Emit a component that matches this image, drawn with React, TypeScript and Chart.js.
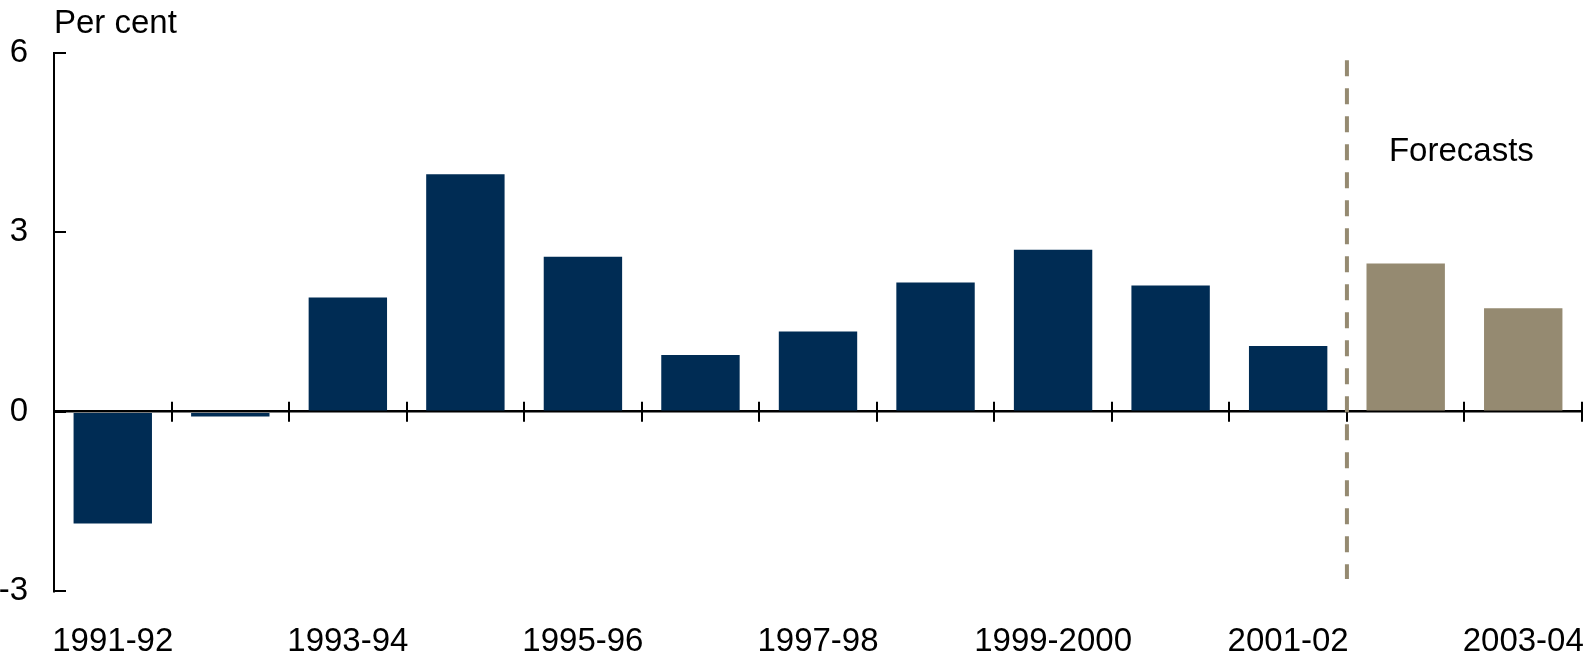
import React, { useEffect, useRef } from "react";
import { Chart, registerables } from "chart.js";

Chart.register(...registerables);

const years = [
  "1991-92", "1992-93", "1993-94", "1994-95", "1995-96", "1996-97", "1997-98",
  "1998-99", "1999-2000", "2000-01", "2001-02", "2002-03", "2003-04",
];
const growth = [-1.87, -0.08, 1.91, 3.97, 2.59, 0.95, 1.34, 2.16, 2.71, 2.11, 1.1, 2.48, 1.73];
// first forecast year
const forecastStart = 11;
const yTicks = [-3, 0, 3, 6];

const NAVY = "#002c54";
const KHAKI = "#958a71";
const FONT = "'Liberation Sans', Arial, sans-serif";

const decorations = {
  id: "decorations",
  afterDatasetsDraw(chart: any) {
    const { ctx, chartArea } = chart;
    const xs = chart.scales.x;
    const ys = chart.scales.y;
    const half = (xs.getPixelForValue(1) - xs.getPixelForValue(0)) / 2;
    const y0 = ys.getPixelForValue(0);

    ctx.save();
    ctx.strokeStyle = "#000";
    ctx.lineWidth = 2;
    ctx.beginPath();
    // y-axis ticks, pointing inward
    for (const v of yTicks) {
      const y = Math.round(ys.getPixelForValue(v));
      ctx.moveTo(chartArea.left, y);
      ctx.lineTo(chartArea.left + 12, y);
    }
    // category boundary ticks crossing the zero line
    for (let i = 0; i < years.length; i++) {
      const x = Math.round(xs.getPixelForValue(i) + half);
      ctx.moveTo(x, y0 - 10);
      ctx.lineTo(x, y0 + 10);
    }
    ctx.stroke();

    // forecast divider
    const xd = xs.getPixelForValue(forecastStart) - half;
    ctx.strokeStyle = KHAKI;
    ctx.lineWidth = 4;
    ctx.setLineDash([16, 12]);
    ctx.beginPath();
    ctx.moveTo(xd, ys.getPixelForValue(5.88));
    ctx.lineTo(xd, ys.getPixelForValue(-2.8));
    ctx.stroke();
    ctx.setLineDash([]);

    ctx.fillStyle = "#000";
    ctx.font = `33px ${FONT}`;
    ctx.textAlign = "left";
    ctx.textBaseline = "middle";
    ctx.fillText("Forecasts", xd + 42, ys.getPixelForValue(4.35));

    ctx.textBaseline = "alphabetic";
    ctx.fillText("Per cent", chartArea.left, chartArea.top - 20);
    ctx.restore();
  },
};

const App: React.FC = () => {
  const canvasRef = useRef<HTMLCanvasElement | null>(null);
  const chartRef = useRef<Chart | null>(null);

  useEffect(() => {
    if (!canvasRef.current) return;
    if (chartRef.current) chartRef.current.destroy();

    chartRef.current = new Chart(canvasRef.current, {
      type: "bar",
      data: {
        labels: years,
        datasets: [
          {
            data: growth,
            backgroundColor: growth.map((_, i) => (i >= forecastStart ? KHAKI : NAVY)),
            borderWidth: 0,
            categoryPercentage: 1,
            barPercentage: 0.667,
          },
        ],
      },
      options: {
        animation: false,
        responsive: false,
        devicePixelRatio: 1,
        layout: { padding: { top: 53, right: 3, bottom: 0, left: 0 } },
        plugins: {
          legend: { display: false },
          tooltip: { enabled: false },
        },
        scales: {
          x: {
            offset: true,
            grid: { display: false, drawTicks: true, tickLength: 31 },
            border: { display: false },
            ticks: {
              autoSkip: false,
              maxRotation: 0,
              padding: 0,
              color: "#000",
              font: { family: FONT, size: 33 },
              callback: (_v: any, i: number) => (i % 2 === 0 ? years[i] : ""),
            },
            afterFit: (scale: any) => {
              scale.height = 72;
              scale.paddingLeft = 0;
              scale.paddingRight = 0;
            },
          },
          y: {
            min: -3,
            max: 6,
            z: 1,
            afterBuildTicks: (scale: any) => {
              scale.ticks = yTicks.map((v) => ({ value: v }));
            },
            grid: {
              drawTicks: false,
              color: (c: any) => (c.tick && c.tick.value === 0 ? "#000" : "rgba(0,0,0,0)"),
              lineWidth: 2.5,
            },
            border: { display: true, color: "#000", width: 2 },
            ticks: {
              padding: 26,
              color: "#000",
              font: { family: FONT, size: 33 },
            },
            afterFit: (scale: any) => {
              scale.width = 54;
            },
          },
        },
      },
      plugins: [decorations],
    });

    return () => {
      if (chartRef.current) {
        chartRef.current.destroy();
        chartRef.current = null;
      }
    };
  }, []);

  return (
    <div style={{ position: "absolute", left: 0, top: 0, width: 1585, height: 663, background: "#fff" }}>
      <canvas ref={canvasRef} width={1585} height={663} style={{ display: "block" }} />
    </div>
  );
};

export default App;
